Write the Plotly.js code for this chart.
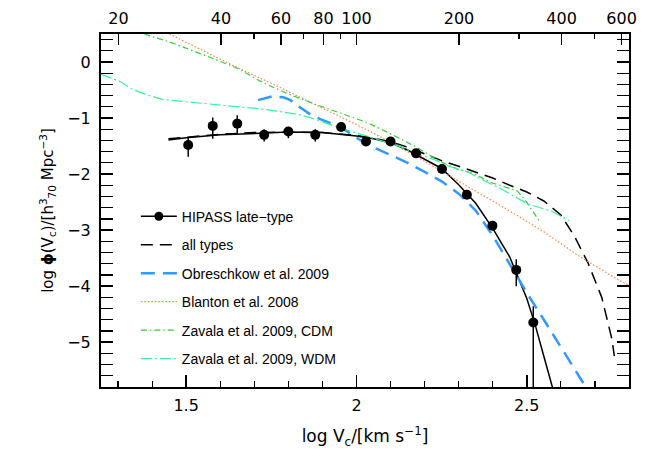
<!DOCTYPE html>
<html>
<head>
<meta charset="utf-8">
<script src="https://cdn.plot.ly/plotly-3.0.1.min.js"></script>
<style>html,body{margin:0;padding:0;background:#fff;}#chart{width:649px;height:450px;}</style>
</head>
<body>
<div id="chart"></div>
<script>
// HIPASS late-type data points (log Vc, log phi, errors)
const hipassX = [1.506, 1.578, 1.650, 1.729, 1.800, 1.879, 1.955, 2.028, 2.100, 2.175, 2.251, 2.324, 2.399, 2.469, 2.519];
const hipassY = [-1.48, -1.14, -1.10, -1.30, -1.24, -1.30, -1.16, -1.42, -1.42, -1.63, -1.91, -2.37, -2.92, -3.71, -4.65];
const hipassErrPlus  = [0.13, 0.15, 0.15, 0.10, 0.07, 0.10, 0.06, 0.05, 0.04, 0.05, 0.05, 0.05, 0.07, 0.19, 0.29];
const hipassErrMinus = [0.21, 0.23, 0.19, 0.12, 0.12, 0.12, 0.06, 0.05, 0.04, 0.05, 0.05, 0.05, 0.07, 0.29, 2.00];

// HIPASS late-type fit (solid)
const fitLateX = [1.448, 1.5, 1.6, 1.7, 1.8, 1.9, 2.0, 2.05, 2.1, 2.15, 2.2, 2.25, 2.3, 2.326, 2.35, 2.4, 2.45, 2.5, 2.525, 2.55, 2.575];
const fitLateY = [-1.39, -1.35, -1.30, -1.27, -1.25, -1.26, -1.32, -1.37, -1.44, -1.57, -1.73, -1.90, -2.19, -2.36, -2.52, -2.97, -3.48, -4.22, -4.70, -5.25, -5.80];

// all types (dashed black)
const allTypesX = [1.448, 1.5, 1.6, 1.7, 1.8, 1.9, 2.0, 2.05, 2.1, 2.15, 2.2, 2.25, 2.3, 2.35, 2.4, 2.45, 2.5, 2.55, 2.6, 2.64, 2.68, 2.72, 2.75, 2.757];
const allTypesY = [-1.37, -1.34, -1.29, -1.26, -1.25, -1.26, -1.31, -1.36, -1.42, -1.52, -1.64, -1.76, -1.86, -1.96, -2.07, -2.20, -2.32, -2.48, -2.73, -3.11, -3.59, -4.20, -4.95, -5.25];

// Obreschkow et al. 2009
const obreschkowX = [1.711, 1.755, 1.785, 1.806, 1.835, 1.863, 1.894, 1.953, 2.0, 2.031, 2.1, 2.15, 2.2, 2.25, 2.3, 2.35, 2.4, 2.45, 2.5, 2.55, 2.6, 2.65, 2.673];
const obreschkowY = [-0.68, -0.61, -0.63, -0.68, -0.81, -0.93, -1.02, -1.16, -1.35, -1.47, -1.66, -1.80, -1.96, -2.13, -2.35, -2.65, -3.10, -3.62, -4.12, -4.60, -5.08, -5.57, -5.80];

// Blanton et al. 2008
const blantonX = [1.451, 1.55, 1.65, 1.75, 1.85, 1.95, 2.05, 2.15, 2.25, 2.35, 2.45, 2.55, 2.65, 2.75, 2.8];
const blantonY = [0.50, 0.20, -0.10, -0.38, -0.67, -0.97, -1.27, -1.60, -1.95, -2.30, -2.66, -3.03, -3.45, -3.82, -3.99];

// Zavala et al. 2009, CDM
const cdmX = [1.377, 1.45, 1.559, 1.65, 1.726, 1.80, 1.882, 1.95, 2.031, 2.1, 2.17, 2.247, 2.30, 2.345, 2.394, 2.472, 2.497, 2.517, 2.537];
const cdmY = [0.50, 0.36, 0.11, -0.11, -0.37, -0.57, -0.76, -0.90, -1.08, -1.28, -1.50, -1.78, -1.92, -1.99, -2.15, -2.30, -2.48, -2.66, -2.84];

// Zavala et al. 2009, WDM
const wdmX = [1.25, 1.304, 1.343, 1.382, 1.431, 1.529, 1.627, 1.726, 1.824, 1.863, 1.933, 2.031, 2.129, 2.17, 2.227, 2.27, 2.326, 2.368, 2.42, 2.502, 2.571, 2.624];
const wdmY = [-0.22, -0.34, -0.49, -0.58, -0.67, -0.73, -0.79, -0.84, -0.93, -0.99, -1.14, -1.32, -1.51, -1.62, -1.74, -1.86, -1.96, -2.10, -2.25, -2.53, -2.66, -2.83];

// top axis (Vc in km/s)
const topMajorLabels = [20, 40, 60, 80, 100, 200, 400, 600];
const topMinorValues = [50, 70, 90, 300, 500];

const legendNames = ['HIPASS late\u2212type', 'all types', 'Obreschkow et al. 2009', 'Blanton et al. 2008', 'Zavala et al. 2009, CDM', 'Zavala et al. 2009, WDM'];

const FONT = 'Liberation Sans, Arial, sans-serif';
const TFONT = 'DejaVu Sans, sans-serif';

const traces = [
  {x: fitLateX, y: fitLateY, mode: 'lines', line: {color: '#000', width: 1.5}, showlegend: false, hoverinfo: 'skip'},
  {x: allTypesX, y: allTypesY, mode: 'lines', name: legendNames[1], legendgroup: 'g2', legendrank: 2,
   line: {color: '#000', width: 1.5, dash: '12px,7px'}},
  {x: obreschkowX, y: obreschkowY, mode: 'lines', name: legendNames[2], legendgroup: 'g3', legendrank: 3,
   line: {color: '#3399FF', width: 2.5, dash: '14px,8px'}},
  {x: blantonX, y: blantonY, mode: 'lines', name: legendNames[3], legendgroup: 'g4', legendrank: 4,
   line: {color: '#FF8040', width: 1.2, dash: '1.5px,2px'}},
  {x: cdmX, y: cdmY, mode: 'lines', name: legendNames[4], legendgroup: 'g5', legendrank: 5,
   line: {color: '#33CC33', width: 1.2, dash: '6px,3px,1.5px,3px'}},
  {x: wdmX, y: wdmY, mode: 'lines', name: legendNames[5], legendgroup: 'g6', legendrank: 6,
   line: {color: '#33F59A', width: 1.2, dash: '11px,3px,2px,3px'}},
  {x: hipassX, y: hipassY, mode: 'markers', showlegend: false,
   marker: {color: '#000', size: 10},
   error_y: {type: 'data', symmetric: false, array: hipassErrPlus, arrayminus: hipassErrMinus, width: 0, thickness: 1.5, color: '#000'}},
  // legend-only entry combining point and line
  {x: [null], y: [null], xaxis: 'x2', mode: 'lines+markers', name: legendNames[0], legendgroup: 'g1', legendrank: 1,
   line: {color: '#000', width: 1.5}, marker: {color: '#000', size: 9}}
];

const layout = {
  width: 649, height: 450,
  margin: {l: 101, r: 20, t: 34, b: 63, pad: 0},
  paper_bgcolor: '#fff', plot_bgcolor: '#fff',
  font: {family: TFONT, size: 16, color: '#000'},
  showlegend: true,
  legend: {x: 0.066, y: 0.528, xanchor: 'left', yanchor: 'top', bgcolor: 'rgba(0,0,0,0)',
           font: {family: FONT, size: 14, color: '#000'}, tracegroupgap: 7.3, itemwidth: 36, traceorder: 'grouped'},
  xaxis: {
    range: [1.25, 2.8], tick0: 0, dtick: 0.5, ticks: 'inside', ticklen: 12, tickwidth: 1.5, tickcolor: '#000',
    minor: {dtick: 0.1, tick0: 0, ticks: 'inside', ticklen: 6, tickwidth: 1.2, tickcolor: '#000'},
    showline: true, linewidth: 2, linecolor: '#000', mirror: false, showgrid: false, zeroline: false,
    tickfont: {family: TFONT, size: 16}, ticklabelstandoff: 3,
    title: {text: 'log V<sub>c</sub>/[km s<sup>\u22121</sup>]', font: {family: TFONT, size: 17}, standoff: 16}
  },
  xaxis2: {
    overlaying: 'x', side: 'top', anchor: 'y', range: [1.25, 2.8],
    tickmode: 'array', tickvals: topMajorLabels.map(v => Math.log10(v)), ticktext: topMajorLabels.map(String),
    ticks: 'inside', ticklen: 11, tickwidth: 1.5, tickcolor: '#000',
    minor: {tickmode: 'array', tickvals: topMinorValues.map(v => Math.log10(v)), ticks: 'inside', ticklen: 5, tickwidth: 1.2, tickcolor: '#000'},
    showline: true, linewidth: 2, linecolor: '#000', showgrid: false, zeroline: false,
    tickfont: {family: TFONT, size: 16}, ticklabelstandoff: 2
  },
  yaxis: {
    range: [-5.8, 0.5], tick0: 0, dtick: 1, ticks: 'inside', ticklen: 12, tickwidth: 1.5, tickcolor: '#000',
    minor: {dtick: 0.2, tick0: 0, ticks: 'inside', ticklen: 6, tickwidth: 1.2, tickcolor: '#000'},
    showline: true, linewidth: 2, linecolor: '#000', mirror: 'allticks', showgrid: false, zeroline: false,
    tickfont: {family: TFONT, size: 16}, ticklabelstandoff: 5,
    title: {text: 'log <b>\u03D5</b>(V<sub>c</sub>)/[h<sup>3</sup><sub>70</sub> Mpc<sup>\u22123</sup>]', font: {family: TFONT, size: 15}, standoff: 10}
  }
};

Plotly.newPlot('chart', traces, layout, {displayModeBar: false, staticPlot: true});
</script>
</body>
</html>
